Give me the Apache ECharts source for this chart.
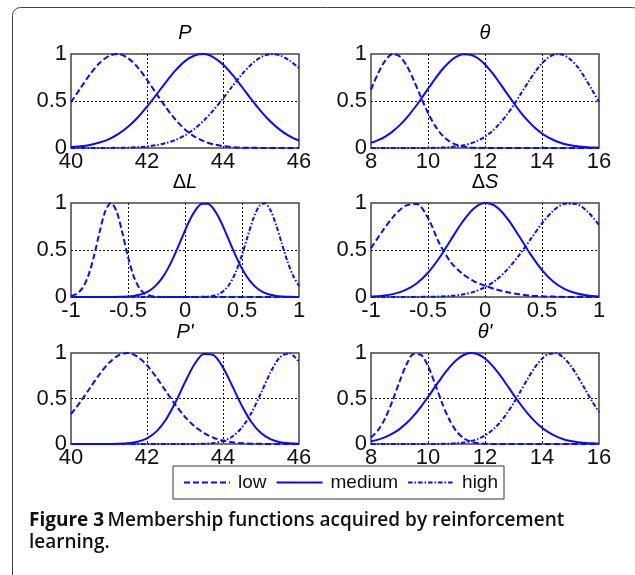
<!DOCTYPE html>
<html>
<head>
<meta charset="utf-8">
<script src="https://cdn.jsdelivr.net/npm/echarts@6/dist/echarts.min.js"></script>
<style>
html,body{margin:0;padding:0;background:#fff;}
#c{width:635px;height:575px;}
</style>
</head>
<body>
<div id="c"></div>
<script>
// ---- sample positions (x) per panel ----
const xP = [40,40.25,40.5,40.75,41,41.25,41.5,41.75,42,42.25,42.5,42.75,43,43.25,43.5,43.75,44,44.25,44.5,44.75,45,45.25,45.5,45.75,46];
const xT = [8,8.25,8.5,8.75,9,9.25,9.5,9.75,10,10.25,10.5,10.75,11,11.25,11.5,11.75,12,12.25,12.5,12.75,13,13.25,13.5,13.75,14,14.25,14.5,14.75,15,15.25,15.5,15.75,16];
const xL = [-1,-0.95,-0.9,-0.85,-0.8,-0.75,-0.7,-0.65,-0.6,-0.55,-0.5,-0.45,-0.4,-0.35,-0.3,-0.25,-0.2,-0.15,-0.1,-0.05,0,0.05,0.1,0.15,0.2,0.25,0.3,0.35,0.4,0.45,0.5,0.55,0.6,0.65,0.7,0.75,0.8,0.85,0.9,0.95,1];
const xS = [-1,-0.9,-0.8,-0.7,-0.6,-0.5,-0.4,-0.3,-0.2,-0.1,0,0.1,0.2,0.3,0.4,0.5,0.6,0.7,0.8,0.9,1];

// ---- P ----
const pLow  = [0.487,0.637,0.783,0.904,0.980,0.999,0.956,0.860,0.726,0.576,0.430,0.301,0.198,0.122,0.071,0.039,0.020,0.010,0.004,0.002,0.001,0,0,0,0];
const pMed  = [0.010,0.018,0.033,0.058,0.095,0.150,0.226,0.322,0.439,0.569,0.702,0.825,0.924,0.984,0.999,0.965,0.888,0.778,0.649,0.516,0.390,0.281,0.193,0.126,0.078];
const pHigh = [0,0,0,0,0.001,0.002,0.004,0.009,0.016,0.030,0.052,0.086,0.135,0.204,0.294,0.403,0.528,0.659,0.785,0.892,0.967,0.999,0.985,0.930,0.850];

// ---- theta ----
const tLow  = [0.621,0.794,0.930,0.997,0.977,0.877,0.721,0.542,0.373,0.235,0.135,0.071,0.034,0.015,0.006,0.002,0,0,0,0,0,0,0,0,0,0,0,0,0,0,0,0,0];
const tMed  = [0.054,0.083,0.122,0.174,0.241,0.321,0.415,0.519,0.629,0.736,0.835,0.916,0.972,0.998,0.992,0.955,0.889,0.801,0.698,0.589,0.481,0.380,0.291,0.215,0.154,0.107,0.072,0.046,0.029,0.018,0.010,0.006,0.003];
const tHigh = [0,0,0,0,0,0,0,0,0,0.003,0.005,0.009,0.017,0.029,0.049,0.078,0.121,0.179,0.254,0.346,0.454,0.573,0.693,0.806,0.901,0.968,0.998,0.990,0.942,0.862,0.750,0.620,0.490];

// ---- delta L ----
const dlLow  = [0.010,0.033,0.094,0.220,0.427,0.685,0.910,1.0,0.910,0.685,0.427,0.220,0.094,0.033,0.010,0.002,0,0,0,0,0,0,0,0,0,0,0,0,0,0,0,0,0,0,0,0,0,0,0,0,0];
const dlMed  = [0,0,0,0,0,0,0,0,0.001,0.003,0.006,0.012,0.024,0.044,0.077,0.129,0.203,0.302,0.424,0.563,0.707,0.838,0.938,0.993,0.993,0.938,0.838,0.707,0.563,0.424,0.302,0.203,0.129,0.077,0.044,0.024,0.012,0.006,0.003,0.001,0];
const dlHigh = [0,0,0,0,0,0,0,0,0,0,0,0,0,0,0,0,0,0,0,0,0,0,0,0.002,0.005,0.014,0.034,0.077,0.154,0.278,0.448,0.647,0.835,0.965,0.998,0.923,0.764,0.566,0.375,0.223,0.118];

// ---- delta S ----
const dsLow  = [0.52,0.70,0.86,0.97,0.99,0.84,0.57,0.37,0.25,0.17,0.12,0.08,0.05,0.03,0.015,0.008,0.004,0,0,0,0];
const dsMed  = [0.005,0.013,0.033,0.073,0.144,0.258,0.417,0.607,0.795,0.939,0.999,0.959,0.829,0.646,0.453,0.287,0.163,0.084,0.039,0.016,0.006];
const dsHigh = [0,0,0,0,0.001,0.002,0.005,0.012,0.026,0.054,0.105,0.183,0.298,0.446,0.615,0.783,0.918,0.992,0.988,0.907,0.767];

// ---- P' ----
const p2Low  = [0.328,0.464,0.616,0.766,0.892,0.975,1.0,0.960,0.865,0.731,0.579,0.430,0.299,0.195,0.120,0.069,0.037,0.019,0.009,0.004,0.002,0,0,0,0];
const p2Med  = [0,0,0,0,0.001,0.003,0.009,0.025,0.063,0.139,0.270,0.458,0.678,0.876,0.989,0.976,0.841,0.633,0.417,0.239,0.120,0.053,0.020,0.007,0.002];
const p2High = [0,0,0,0,0,0,0,0,0,0,0,0,0,0.001,0.003,0.011,0.033,0.083,0.182,0.344,0.560,0.787,0.954,0.997,0.899];

// ---- theta' ----
const t2Low  = [0.071,0.152,0.285,0.470,0.684,0.876,0.988,0.980,0.856,0.658,0.446,0.266,0.139,0.064,0.026,0.009,0.003,0,0,0,0,0,0,0,0,0,0,0,0,0,0,0,0];
const t2Med  = [0.030,0.048,0.075,0.113,0.164,0.230,0.312,0.409,0.516,0.630,0.741,0.842,0.924,0.978,1.0,0.986,0.940,0.864,0.767,0.657,0.543,0.434,0.334,0.249,0.178,0.124,0.083,0.053,0.033,0.020,0.012,0.007,0.004];
const t2High = [0,0,0,0,0,0,0,0,0,0,0.002,0.004,0.009,0.017,0.032,0.056,0.094,0.150,0.228,0.328,0.448,0.582,0.718,0.841,0.937,0.991,0.996,0.951,0.863,0.744,0.609,0.474,0.350];

const seriesNames = ['low','medium','high'];
const yTicks = [0, 0.5, 1];

const panels = [
  {title:'{i|P}', xs:xP, min:40, max:46, step:2, ys:[pLow,pMed,pHigh], left:71, top:54, h:94},
  {title:'{i|θ}', xs:xT, min:8, max:16, step:2, ys:[tLow,tMed,tHigh], left:371, top:54, h:94},
  {title:'{u|Δ}{i|L}', xs:xL, min:-1, max:1, step:0.5, ys:[dlLow,dlMed,dlHigh], left:71, top:203, h:94},
  {title:'{u|Δ}{i|S}', xs:xS, min:-1, max:1, step:0.5, ys:[dsLow,dsMed,dsHigh], left:371, top:203, h:94},
  {title:"{i|P'}", xs:xP, min:40, max:46, step:2, ys:[p2Low,p2Med,p2High], left:71, top:353, h:91},
  {title:"{i|θ'}", xs:xT, min:8, max:16, step:2, ys:[t2Low,t2Med,t2High], left:371, top:353, h:91}
];

const BLUE = '#0a0aff';
const dashTypes = [[6,3],'solid',[4.5,2,1.5,2]];
const FONT = '"Liberation Sans", Arial, sans-serif';
const W = 228;

const grids = [], xAxes = [], yAxes = [], series = [], graphics = [];
panels.forEach((p, i) => {
  grids.push({left:p.left, top:p.top, width:W, height:p.h, show:true,
    borderColor:'#444', borderWidth:1.5, backgroundColor:'transparent'});
  xAxes.push({gridIndex:i, type:'value', min:p.min, max:p.max, interval:p.step,
    axisLine:{show:false}, axisTick:{show:false},
    splitLine:{show:true, showMinLine:false, showMaxLine:false, lineStyle:{color:'#111', width:1, type:[2,2]}},
    axisLabel:{fontFamily:FONT, fontSize:22, color:'#111', margin:3, showMinLabel:true, showMaxLabel:true}});
  yAxes.push({gridIndex:i, type:'value', min:yTicks[0], max:yTicks[2], interval:yTicks[1]-yTicks[0],
    axisLine:{show:false}, axisTick:{show:false},
    splitLine:{show:true, showMinLine:false, showMaxLine:false, lineStyle:{color:'#111', width:1, type:[2,2]}},
    axisLabel:{fontFamily:FONT, fontSize:22, color:'#111', margin:4}});
  p.ys.forEach((ys, k) => {
    series.push({type:'line', name:seriesNames[k], xAxisIndex:i, yAxisIndex:i,
      data:p.xs.map((x, j) => [x, ys[j]]), smooth:0.3, symbol:'none', clip:false,
      color:BLUE, lineStyle:{color:BLUE, width:2, type:dashTypes[k]}, silent:true, animation:false});
  });
  graphics.push({type:'text', x:p.left + W/2, y:p.top - 21,
    style:{text:p.title, textAlign:'center', textVerticalAlign:'middle', fill:'#000',
      rich:{i:{fontFamily:FONT, fontSize:20, fontStyle:'italic', fill:'#000'},
            u:{fontFamily:FONT, fontSize:20, fontStyle:'normal', fill:'#000'}}}});
});

// outer frame
graphics.unshift({type:'rect', shape:{x:12.5, y:7.5, width:628, height:620, r:8},
  style:{fill:'none', stroke:'#444', lineWidth:1}, z:-10});
// caption
graphics.push({type:'text', x:29, y:510,
  style:{text:'{b|Figure 3} {s|Membership functions acquired by reinforcement}\n{s|learning.}',
    textVerticalAlign:'top', fill:'#111',
    rich:{b:{fontFamily:'Open Sans', fontWeight:700, fontSize:19, lineHeight:22, fill:'#111'},
          s:{fontFamily:'Open Sans', fontWeight:600, fontSize:19, lineHeight:22, fill:'#111'}}}});

const chart = echarts.init(document.getElementById('c'), null, {renderer:'canvas'});
chart.setOption({
  animation:false,
  backgroundColor:'#fff',
  grid:grids, xAxis:xAxes, yAxis:yAxes, series:series,
  legend:{data:seriesNames, left:173, top:466, itemWidth:46, itemHeight:14, itemGap:9,
    padding:[7,6,7,10], backgroundColor:'#fff', borderColor:'#333', borderWidth:1,
    selectedMode:false, z:20, itemStyle:{opacity:0},
    textStyle:{fontFamily:FONT, fontSize:19, color:'#111', padding:[0,0,0,3]}},
  graphic:graphics
});
</script>
</body>
</html>
